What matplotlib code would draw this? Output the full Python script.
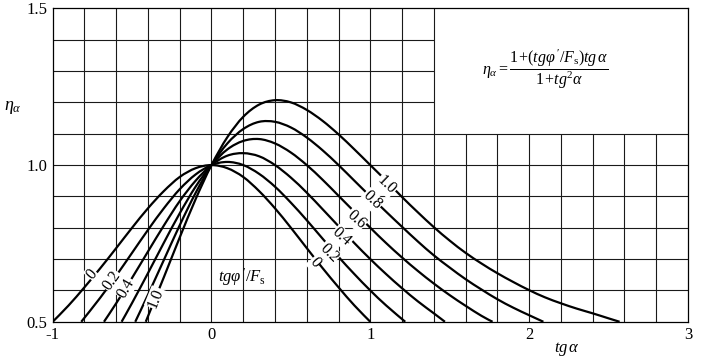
import matplotlib
matplotlib.use('Agg')
import matplotlib.pyplot as plt
from matplotlib.path import Path
from matplotlib.patches import PathPatch

plt.rcParams['font.family'] = ['Liberation Serif', 'DejaVu Serif']
plt.rcParams['mathtext.fontset'] = 'custom'
plt.rcParams['mathtext.rm'] = 'Liberation Serif'
plt.rcParams['mathtext.it'] = 'Liberation Serif:italic'
plt.rcParams['axes.unicode_minus'] = False

# --- values: tg(alpha) -> eta_alpha, one curve per tg(phi')/Fs
t_00 = [-1.0, -0.9, -0.8, -0.7, -0.6, -0.5, -0.4, -0.3, -0.2, -0.1, 0.0,
        0.1, 0.2, 0.3, 0.4, 0.5, 0.6, 0.7, 0.8, 0.9, 1.0]
eta_00 = [0.500, 0.552, 0.610, 0.671, 0.735, 0.800, 0.862, 0.917, 0.962, 0.990, 1.000,
          0.990, 0.962, 0.917, 0.862, 0.800, 0.735, 0.671, 0.610, 0.552, 0.500]

t_02 = [-0.82, -0.7, -0.6, -0.5, -0.4, -0.3, -0.2, -0.1, 0.0,
        0.1, 0.2, 0.3, 0.4, 0.5, 0.6, 0.7, 0.8, 0.9, 1.0, 1.1, 1.22]
eta_02 = [0.500, 0.577, 0.647, 0.720, 0.793, 0.862, 0.923, 0.970, 1.000,
          1.010, 1.000, 0.972, 0.931, 0.880, 0.824, 0.765, 0.707, 0.652, 0.600, 0.552, 0.500]

t_04 = [-0.677, -0.6, -0.5, -0.4, -0.3, -0.2, -0.1, 0.0,
        0.1, 0.2, 0.3, 0.4, 0.5, 0.6, 0.7, 0.8, 0.9, 1.0, 1.1, 1.2, 1.3, 1.4, 1.47]
eta_04 = [0.500, 0.559, 0.640, 0.724, 0.807, 0.885, 0.950, 1.000,
          1.030, 1.038, 1.028, 1.000, 0.960, 0.912, 0.859, 0.805, 0.751, 0.700, 0.652,
          0.607, 0.565, 0.527, 0.500]

t_06 = [-0.566, -0.5, -0.4, -0.3, -0.2, -0.1, 0.0,
        0.1, 0.2, 0.3, 0.4, 0.5, 0.6, 0.7, 0.8, 0.9, 1.0, 1.1, 1.2, 1.3, 1.4, 1.5,
        1.6, 1.7, 1.77]
eta_06 = [0.500, 0.560, 0.655, 0.752, 0.846, 0.931, 1.000,
          1.050, 1.077, 1.083, 1.069, 1.040, 1.000, 0.953, 0.902, 0.851, 0.800, 0.751,
          0.705, 0.662, 0.622, 0.585, 0.551, 0.519, 0.500]

t_08 = [-0.48, -0.4, -0.3, -0.2, -0.1, 0.0,
        0.1, 0.2, 0.3, 0.4, 0.5, 0.6, 0.7, 0.8, 0.9, 1.0, 1.1, 1.2, 1.3, 1.4, 1.5,
        1.6, 1.7, 1.8, 1.9, 2.0, 2.09]
eta_08 = [0.500, 0.586, 0.697, 0.808, 0.911, 1.000,
          1.069, 1.115, 1.138, 1.138, 1.120, 1.088, 1.047, 1.000, 0.950, 0.900, 0.851,
          0.803, 0.756, 0.712, 0.673, 0.636, 0.603, 0.572, 0.545, 0.521, 0.500]

t_10 = [-0.414, -0.3, -0.2, -0.1, 0.0,
        0.1, 0.2, 0.3, 0.4, 0.5, 0.6, 0.7, 0.8, 0.9, 1.0, 1.1, 1.2, 1.3, 1.4, 1.5,
        1.6, 1.7, 1.8, 1.9, 2.0, 2.1, 2.2, 2.3, 2.4, 2.5, 2.57]
eta_10 = [0.500, 0.642, 0.769, 0.891, 1.000,
          1.089, 1.154, 1.193, 1.207, 1.200, 1.176, 1.141, 1.098, 1.050, 1.000, 0.950,
          0.898, 0.849, 0.802, 0.759, 0.720, 0.686, 0.655, 0.627, 0.601, 0.578, 0.559,
          0.542, 0.527, 0.511, 0.500]

curves_t = [t_00, t_02, t_04, t_06, t_08, t_10]
curves_eta = [eta_00, eta_02, eta_04, eta_06, eta_08, eta_10]

# curve labels (text, x, y, angle)
left_labels = [('0', -0.75, 0.650, 50), ('0.2', -0.63, 0.632, 55),
               ('0.4', -0.54, 0.608, 60), ('1.0', -0.35, 0.575, 68)]
right_labels = [('1.0', 1.10, 0.935, -44), ('0.8', 1.01, 0.887, -44),
                ('0.6', 0.91, 0.826, -42), ('0.4', 0.82, 0.770, -42),
                ('0.2', 0.74, 0.720, -45), ('0', 0.65, 0.690, -50)]

x_ticks = [-1, 0, 1, 2, 3]
x_ticklabels = ['-1', '0', '1', '2', '3']
y_ticks = [0.5, 1.0, 1.5]
y_ticklabels = ['0.5', '1.0', '1.5']

# grid layout (the upper right corner is kept free for the formula)
grid_x_full = [-0.8, -0.6, -0.4, -0.2, 0.0, 0.2, 0.4, 0.6, 0.8, 1.0, 1.2, 1.4]
grid_x_low = [1.6, 1.8, 2.0, 2.2, 2.4, 2.6, 2.8]
grid_y_full = [0.6, 0.7, 0.8, 0.9, 1.0, 1.1]
grid_y_left = [1.2, 1.3, 1.4]


def smooth_path(xs, ys):
    # Catmull-Rom through the read points, drawn as cubic Bezier pieces
    pts = list(zip(xs, ys))
    verts = [pts[0]]
    codes = [Path.MOVETO]
    n = len(pts)
    for i in range(n - 1):
        p0 = pts[i - 1] if i > 0 else pts[i]
        p1 = pts[i]
        p2 = pts[i + 1]
        p3 = pts[i + 2] if i + 2 < n else pts[i + 1]
        c1 = (p1[0] + (p2[0] - p0[0]) / 6, p1[1] + (p2[1] - p0[1]) / 6)
        c2 = (p2[0] - (p3[0] - p1[0]) / 6, p2[1] - (p3[1] - p1[1]) / 6)
        verts += [c1, c2, p2]
        codes += [Path.CURVE4] * 3
    return Path(verts, codes)


fig = plt.figure(figsize=(7.07, 3.64), dpi=100)
ax = fig.add_axes([0.0745, 0.116, 0.8985, 0.861])
ax.set_xlim(-1, 3)
ax.set_ylim(0.5, 1.5)

gcol = '#1a1a1a'
ax.vlines(grid_x_full, 0.5, 1.5, color=gcol, lw=0.8, zorder=1)
ax.vlines(grid_x_low, 0.5, 1.1, color=gcol, lw=0.8, zorder=1)
ax.hlines(grid_y_full, -1, 3, color=gcol, lw=0.8, zorder=1)
ax.hlines(grid_y_left, -1, 1.4, color=gcol, lw=0.8, zorder=1)

for t, eta in zip(curves_t, curves_eta):
    ax.add_patch(PathPatch(smooth_path(t, eta), facecolor='none', edgecolor='black',
                           lw=1.6, zorder=2, capstyle='butt'))

for txt, x, y, ang in left_labels + right_labels:
    ax.text(x, y, txt, rotation=ang, rotation_mode='anchor', ha='center', va='center',
            fontsize=11.5, zorder=3,
            bbox=dict(facecolor='white', edgecolor='none', pad=0.5))

ax.text(0.195, 0.643, r"$tg\varphi\,'/F_{\rm s}$", ha='center', va='center', fontsize=12,
        zorder=3)
ax.text(2.1, 1.305,
        r"$\eta_\alpha=\dfrac{1\!+\!(tg\varphi\,'/F_{\rm s})tg\,\alpha}{1\!+\!tg^2\alpha}$",
        ha='center', va='center', fontsize=11.5, zorder=3)

ax.text(-1.25, 1.185, r"$\eta_\alpha$", ha='center', va='center', fontsize=13)
ax.text(2.24, 0.413, r"$tg\,\alpha$", ha='center', va='center', fontsize=12)

ax.set_xticks(x_ticks)
ax.set_xticklabels(x_ticklabels)
ax.set_yticks(y_ticks)
ax.set_yticklabels(y_ticklabels)
ax.tick_params(length=0, labelsize=12, pad=4)

for s in ax.spines.values():
    s.set_linewidth(0.9)
    s.set_color('black')

fig.savefig('out.png', dpi=100)
